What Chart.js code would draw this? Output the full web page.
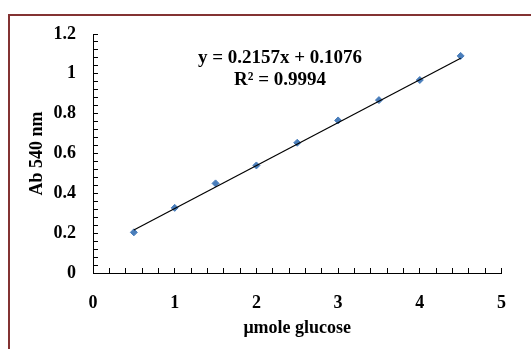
<!DOCTYPE html>
<html>
<head>
<meta charset="utf-8">
<script src="https://cdn.jsdelivr.net/npm/chart.js@4/dist/chart.umd.min.js"></script>
<style>
    html, body { margin: 0; padding: 0; background: #fff; overflow: hidden; }
    #wrap { position: relative; width: 531px; height: 349px; }
    #frame {
        position: absolute; left: 8px; top: 14px; width: 600px; height: 400px;
        border: 2px solid #833232; box-sizing: border-box;
    }
    #eq {
        position: absolute; left: 180px; top: 46px; width: 200px;
        text-align: center; font-family: 'Liberation Serif', serif;
        font-weight: bold; font-size: 19px; line-height: 22px; color: #000;
    }
</style>
</head>
<body>
<div id="wrap">
    <div id="frame"></div>
    <canvas id="chart" width="531" height="349"></canvas>
    <div id="eq">y = 0.2157x + 0.1076<br>R² = 0.9994</div>
</div>
<script>
const glucose = [0.5, 1, 1.5, 2, 2.5, 3, 3.5, 4, 4.5];
const absorbance = [0.204, 0.327, 0.450, 0.540, 0.654, 0.766, 0.868, 0.969, 1.090];
const trendX = [0.5, 4.5];
const trendY = [0.216, 1.078];
const yLabels = ['0', '0.2', '0.4', '0.6', '0.8', '1', '1.2'];
const xLabels = ['0', '1', '2', '3', '4', '5'];

Chart.defaults.font.family = "'Liberation Serif', serif";
Chart.defaults.font.weight = 'bold';
Chart.defaults.color = '#000';

// only label the major steps, minor ticks stay blank
function majorLabel(value, step, labels) {
    const k = value / step;
    if (Math.abs(k - Math.round(k)) < 1e-6) return labels[Math.round(k)];
    return '';
}

new Chart(document.getElementById('chart'), {
    type: 'scatter',
    data: {
        datasets: [
            {
                label: 'trend',
                type: 'line',
                data: trendX.map((x, i) => ({x: x, y: trendY[i]})),
                borderColor: '#000',
                borderWidth: 1.2,
                pointRadius: 0,
                fill: false
            },
            {
                label: 'Ab',
                data: glucose.map((x, i) => ({x: x, y: absorbance[i]})),
                pointStyle: 'rectRot',
                pointRadius: 3.5,
                backgroundColor: '#4a7ebb',
                borderColor: '#4a7ebb',
                borderWidth: 1
            }
        ]
    },
    options: {
        responsive: false,
        animation: false,
        layout: { padding: { left: 0, top: 34, right: 18, bottom: 0 } },
        plugins: { legend: { display: false }, tooltip: { enabled: false } },
        scales: {
            x: {
                type: 'linear',
                min: 0, max: 5,
                afterFit: s => { s.height = 76; },
                border: { display: true, color: '#000', width: 1 },
                grid: { drawOnChartArea: false, drawTicks: true, tickLength: -5, color: '#000', lineWidth: 1 },
                ticks: {
                    stepSize: 0.2, autoSkip: false, maxRotation: 0, padding: 25,
                    font: { size: 18 },
                    callback: v => majorLabel(v, 1, xLabels)
                },
                title: { display: true, text: 'μmole glucose', font: { size: 18 }, padding: { top: 0, bottom: 10 } }
            },
            y: {
                min: 0, max: 1.2,
                afterFit: s => { s.width = 93; },
                border: { display: true, color: '#000', width: 1 },
                grid: { drawOnChartArea: false, drawTicks: true, tickLength: -5, color: '#000', lineWidth: 1 },
                ticks: {
                    stepSize: 0.04, autoSkip: false, padding: 22,
                    font: { size: 18 },
                    callback: v => majorLabel(v, 0.2, yLabels)
                },
                title: { display: true, text: 'Ab 540 nm', font: { size: 18 }, padding: { top: 27, bottom: 0 } }
            }
        }
    }
});
</script>
</body>
</html>
